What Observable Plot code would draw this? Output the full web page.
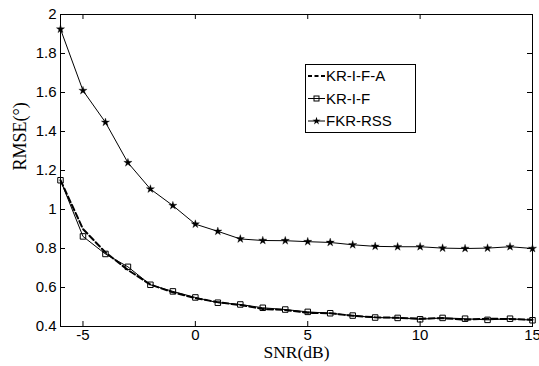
<!DOCTYPE html>
<html>
<head>
<meta charset="utf-8">
<script src="https://cdn.jsdelivr.net/npm/d3@7"></script>
<script src="https://cdn.jsdelivr.net/npm/@observablehq/plot@0.6"></script>
<style>
  html, body { margin: 0; padding: 0; background: #fff; }
  #wrap { position: relative; width: 539px; height: 366px; }
  #legend { position: absolute; left: 305px; top: 64px; width: 109px; height: 67px;
    border: 1px solid #000; background: #fff; font-family: "Liberation Sans", Arial, sans-serif; font-size: 15px; }
</style>
</head>
<body>
<div id="wrap"></div>
<script>
const snr = [-6,-5,-4,-3,-2,-1,0,1,2,3,4,5,6,7,8,9,10,11,12,13,14,15];
const krifa = [1.15,0.90,0.78,0.69,0.615,0.575,0.545,0.525,0.51,0.49,0.485,0.47,0.468,0.455,0.447,0.445,0.44,0.443,0.435,0.44,0.438,0.435];
const krif  = [1.15,0.862,0.772,0.706,0.614,0.58,0.549,0.522,0.513,0.496,0.487,0.475,0.468,0.456,0.446,0.444,0.437,0.444,0.44,0.434,0.44,0.432];
const fkrrss = [1.925,1.61,1.447,1.24,1.105,1.02,0.925,0.888,0.849,0.841,0.84,0.835,0.831,0.819,0.811,0.809,0.809,0.802,0.80,0.802,0.809,0.80];
const seriesNames = ["KR-I-F-A","KR-I-F","FKR-RSS"];
const xTicks = [-5,0,5,10,15];
const yTicks = [0.4,0.6,0.8,1,1.2,1.4,1.6,1.8,2];

const W = 539, H = 366, mL = 60, mR = 7, mT = 14, mB = 40;
const pw = W - mL - mR, ph = H - mT - mB;

const rows = (ys) => snr.map((x, i) => ({x, y: ys[i]}));
const dA = rows(krifa), dB = rows(krif), dC = rows(fkrrss);

const chart = Plot.plot({
  width: W, height: H,
  marginLeft: mL, marginRight: mR, marginTop: mT, marginBottom: mB,
  style: {fontFamily: "'Liberation Sans', Arial, sans-serif", fontSize: "15px", color: "#000", background: "#fff", overflow: "visible"},
  x: {domain: [-6, 15]},
  y: {domain: [0.4, 2]},
  marks: [
    Plot.frame({stroke: "#000", strokeWidth: 1}),
    Plot.axisX({ticks: xTicks, tickSize: 0, tickPadding: 3, tickFormat: d => String(d), label: null}),
    Plot.axisY({ticks: yTicks, tickSize: 0, tickPadding: 4, tickFormat: d => String(+d.toFixed(1)), label: null}),
    Plot.tickX(xTicks, {x: d => d, insetTop: ph - 5, stroke: "#000"}),
    Plot.tickX(xTicks, {x: d => d, insetBottom: ph - 5, stroke: "#000"}),
    Plot.tickY(yTicks, {y: d => d, insetRight: pw - 5, stroke: "#000"}),
    Plot.tickY(yTicks, {y: d => d, insetLeft: pw - 5, stroke: "#000"}),
    Plot.line(dC, {x: "x", y: "y", stroke: "#000", strokeWidth: 1}),
    Plot.dot(dC, {x: "x", y: "y", symbol: "star", r: 2.6, fill: "#000", stroke: "#000", strokeWidth: 0.3}),
    Plot.line(dB, {x: "x", y: "y", stroke: "#000", strokeWidth: 1}),
    Plot.dot(dB, {x: "x", y: "y", symbol: "square", r: 3.1, fill: "none", stroke: "#000", strokeWidth: 1}),
    Plot.line(dA, {x: "x", y: "y", stroke: "#000", strokeWidth: 2, strokeDasharray: "6,3"}),
    Plot.text(["RMSE(°)"], {frameAnchor: "left", dx: -40, rotate: -90, fontFamily: "'Liberation Serif', 'Times New Roman', serif", fontSize: 18, fill: "#000"}),
    Plot.text(["SNR(dB)"], {frameAnchor: "bottom", dy: 31, fontFamily: "'Liberation Serif', 'Times New Roman', serif", fontSize: 17.5, fill: "#000"})
  ]
});

const wrap = document.getElementById("wrap");
wrap.appendChild(chart);

// legend
const leg = document.createElement("div");
leg.id = "legend";
wrap.appendChild(leg);
const lsvg = d3.select(leg).append("svg").attr("width", 109).attr("height", 67);
const styles = [
  {dash: "4,2.5", w: 2, marker: null},
  {dash: null, w: 1, marker: "square"},
  {dash: null, w: 1, marker: "star"}
];
seriesNames.forEach((name, i) => {
  const cy = 11 + i * 22.5;
  const s = styles[i];
  const ln = lsvg.append("line").attr("x1", 2).attr("x2", 19).attr("y1", cy).attr("y2", cy)
    .attr("stroke", "#000").attr("stroke-width", s.w);
  if (s.dash) ln.attr("stroke-dasharray", s.dash);
  if (s.marker === "square") {
    lsvg.append("rect").attr("x", 8).attr("y", cy - 2.5).attr("width", 5).attr("height", 5)
      .attr("fill", "none").attr("stroke", "#000");
  } else if (s.marker === "star") {
    lsvg.append("path").attr("d", d3.symbol(d3.symbolStar, 20)()).attr("transform", `translate(10.5,${cy})`).attr("fill", "#000");
  }
  lsvg.append("text").attr("x", 20).attr("y", cy).attr("dy", "0.35em").text(name)
    .attr("font-family", "'Liberation Sans', Arial, sans-serif").attr("font-size", 15).attr("fill", "#000");
});
</script>
</body>
</html>
